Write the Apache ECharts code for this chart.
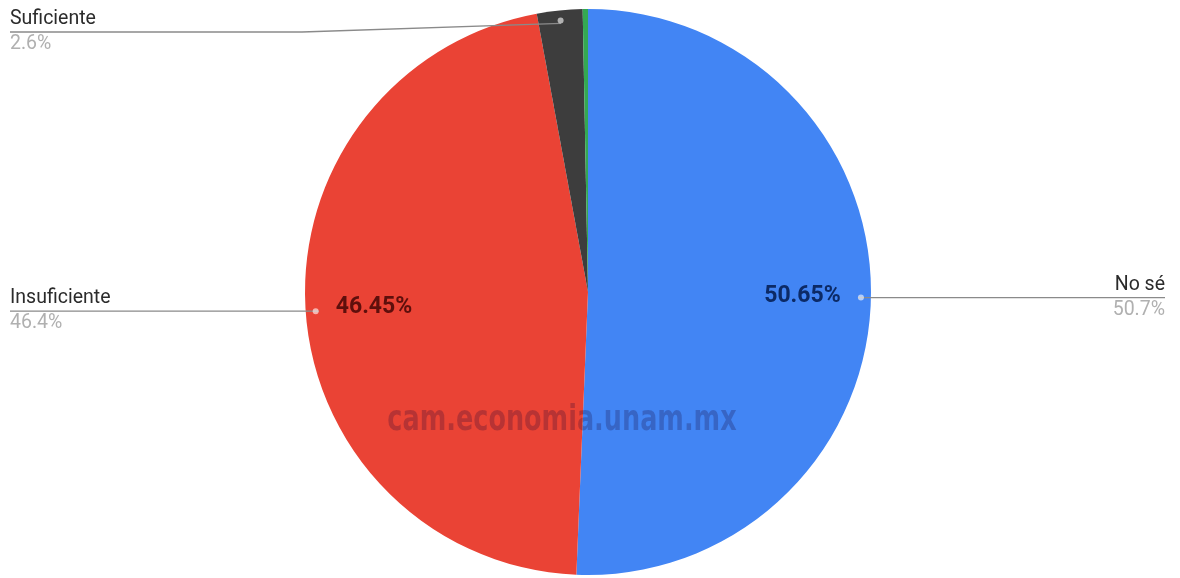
<!DOCTYPE html>
<html>
<head>
<meta charset="utf-8">
<script src="https://cdn.jsdelivr.net/npm/echarts@6/dist/echarts.min.js"></script>
<style>
  html, body { margin: 0; padding: 0; background: #ffffff; }
  #chart { width: 1180px; height: 578px; }
</style>
</head>
<body>
<div id="chart"></div>
<script>
// Survey answers, share of respondents (%)
const categories = ['No sé', 'Insuficiente', 'Suficiente', 'Otra respuesta'];
const shares = [50.654, 46.446, 2.6, 0.3];
const sliceColors = ['#4285F4', '#EA4335', '#3d3d3d', '#34A853'];
// Which slices carry an outside label / an inside value label
const showOuter = [true, true, true, false];
const showInner = [true, true, false, false];
const innerColors = ['#0c2a66', '#5e0f0c', '#ffffff', '#ffffff'];

const W = 1180;
const CENTER = [588, 292];
const R = 283;
const DOT_R = 270;
const EDGE = 10;
const TOP_LINE_Y = 32;

const chart = echarts.init(document.getElementById('chart'), null, { renderer: 'canvas' });

const transparent = 'rgba(0,0,0,0)';
const font = 'Roboto, "Noto Sans", sans-serif';

function items(extra) {
  return categories.map((name, i) => Object.assign({ name: name, value: shares[i] }, extra ? extra(i) : {}));
}

const overlayBase = {
  type: 'pie',
  center: CENTER,
  z: 5,
  silent: true,
  animation: false,
  avoidLabelOverlap: false,
  itemStyle: { color: transparent },
  emphasis: { disabled: true }
};

chart.setOption({
  backgroundColor: '#ffffff',
  animation: false,
  graphic: [{
    type: 'text',
    x: 562,
    y: 421,
    z: 100,
    scaleX: 0.81,
    style: {
      text: 'cam.economia.unam.mx',
      font: 'bold 35px "DejaVu Sans Condensed", "DejaVu Sans", sans-serif',
      fill: 'rgba(20,0,50,0.24)',
      align: 'center',
      verticalAlign: 'middle'
    }
  }],
  series: [
    // the pie itself
    {
      type: 'pie',
      center: CENTER,
      radius: R,
      z: 2,
      startAngle: 90,
      clockwise: true,
      avoidLabelOverlap: false,
      label: { show: false },
      labelLine: { show: false },
      emphasis: { disabled: true },
      data: items(i => ({ itemStyle: { color: sliceColors[i] } }))
    },
    // value labels inside the two large slices
    Object.assign({}, overlayBase, {
      radius: [140, R],
      label: {
        show: true,
        position: 'inside',
        fontFamily: font,
        fontWeight: 'bold',
        fontSize: 23,
        formatter: p => p.value.toFixed(2) + '%'
      },
      labelLine: { show: false },
      data: items(i => ({ label: { show: showInner[i], color: innerColors[i] } }))
    }),
    // small markers where the leader lines start
    Object.assign({}, overlayBase, {
      radius: [DOT_R - 4, DOT_R + 4],
      z: 6,
      label: {
        show: true,
        position: 'inside',
        formatter: '{d|}',
        rich: {
          d: { width: 6, height: 6, borderRadius: 3, backgroundColor: 'rgba(255,255,255,0.6)' }
        }
      },
      labelLine: { show: false },
      data: items(i => ({ label: { show: showOuter[i] } }))
    }),
    // outside labels: category name above the leader line, rounded share below
    Object.assign({}, overlayBase, {
      radius: DOT_R,
      label: {
        show: true,
        position: 'outside',
        formatter: p => '{n|' + p.name + '}\n{p|' + p.value.toFixed(1) + '%}',
        rich: {
          n: { fontFamily: font, fontSize: 19.5, color: '#2b2b2b', lineHeight: 25 },
          p: { fontFamily: font, fontSize: 19.5, color: '#b0b0b0', lineHeight: 25 }
        }
      },
      labelLine: {
        show: true,
        length: 5,
        length2: 5,
        lineStyle: { color: '#8a8a8a', width: 1.3 }
      },
      labelLayout: function (p) {
        const pts = p.labelLinePoints;
        if (!pts || !pts.length) return {};
        const sx = pts[0][0], sy = pts[0][1];
        const left = sx < CENTER[0];
        const edgeX = left ? EDGE : W - 15;
        const lineY = Math.max(sy, TOP_LINE_Y);
        let line;
        if (lineY === sy) {
          line = [[sx, sy], [edgeX, sy]];
        } else {
          const bendX = sx + (edgeX - sx) * 0.47;
          line = [[sx, sy], [bendX, lineY], [edgeX, lineY]];
        }
        return {
          x: edgeX,
          y: lineY,
          align: left ? 'left' : 'right',
          verticalAlign: 'middle',
          labelLinePoints: line
        };
      },
      data: items(i => ({ label: { show: showOuter[i] }, labelLine: { show: showOuter[i] } }))
    })
  ]
});
</script>
</body>
</html>
